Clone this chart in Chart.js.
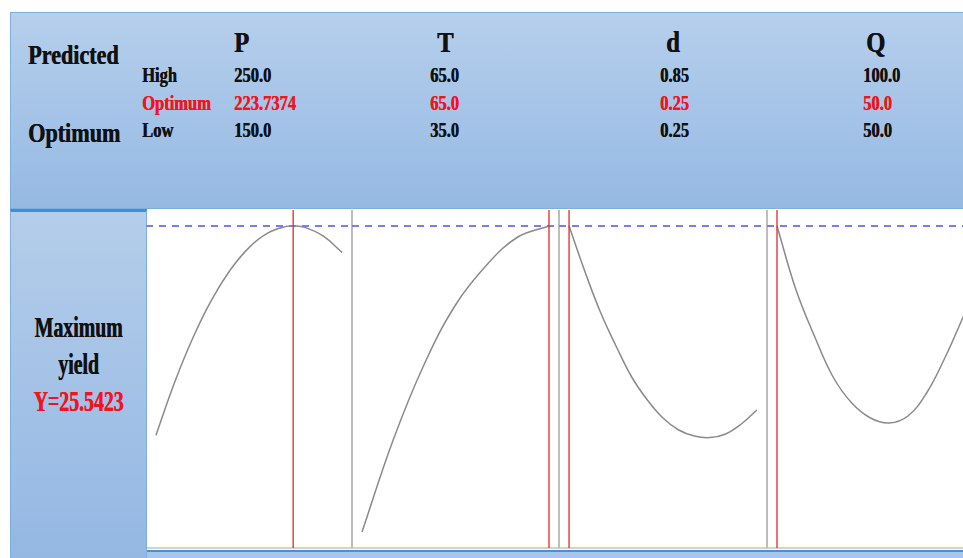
<!DOCTYPE html>
<html>
<head>
<meta charset="utf-8">
<script src="https://cdn.jsdelivr.net/npm/chart.js@4.4.1/dist/chart.umd.min.js"></script>
<style>
  body { margin: 0; width: 963px; height: 558px; overflow: hidden; background: #fff; position: relative; }
  .box { position: absolute; box-sizing: border-box; }
  #top { left: 10px; top: 12px; width: 970px; height: 197px; border: 1px solid #7cb0e2;
         background: linear-gradient(#b6cfec, #95b9e3); }
  #left { left: 10px; top: 209px; width: 137px; height: 360px; border: 1px solid #7cb0e2; border-top: 3px solid #3f8fd8;
          background: linear-gradient(#b4cdea, #93b7e3); }
  #plot { left: 147px; top: 209px; width: 830px; height: 340px; background: #fff; }
  #base1 { left: 147px; top: 547px; width: 830px; height: 2px; background: #d2d2d2; }
  #base2 { left: 147px; top: 550px; width: 830px; height: 2px; background: #3f95dc; }
  #base3 { left: 147px; top: 552px; width: 830px; height: 10px; background: #a9c6ea; }
  .sep { position: absolute; top: 210px; width: 2px; height: 338px; background: #bdbdbd; }
  .t { position: absolute; font-family: "Liberation Serif", "Times New Roman", serif; font-weight: bold;
       line-height: 1; white-space: nowrap; transform-origin: left center; color: #111;
       text-shadow: 0.6px 0 0 currentColor; }
  .tab { font-size: 22px; transform: scaleX(0.75); }
  .hd { font-size: 29px; transform: scaleX(0.85); }
  .big { font-size: 28px; transform: scaleX(0.79); }
  .red { color: #f0141e; }
  #lab { position: absolute; left: 10px; width: 137px; top: 312px; text-align: center;
         font-family: "Liberation Serif", "Times New Roman", serif; font-weight: bold; font-size: 30px; color: #111;
         text-shadow: 0.7px 0 0 currentColor; }
  #lab div { height: 37px; line-height: 30px; transform: scaleX(0.66); white-space: nowrap; }
  canvas { position: absolute; top: 210px; }
</style>
</head>
<body>
<div class="box" id="top"></div>
<div class="box" id="left"></div>
<div class="box" id="plot"></div>
<div class="box" id="base1"></div>
<div class="box" id="base2"></div>
<div class="box" id="base3"></div>

<div class="t big" style="left:28px; top:41px;">Predicted</div>
<div class="t big" style="left:28px; top:119px;">Optimum</div>

<div class="t tab" style="left:142px; top:64px;">High</div>
<div class="t tab red" style="left:142px; top:92px;">Optimum</div>
<div class="t tab" style="left:142px; top:119px;">Low</div>

<div id="hdrs"></div>

<div id="lab">
  <div>Maximum</div>
  <div>yield</div>
  <div style="color:#f0141e">Y=25.5423</div>
</div>

<div class="sep" style="left:351px"></div>
<div class="sep" style="left:558px"></div>
<div class="sep" style="left:766px"></div>

<canvas id="c0" width="206" height="338" style="left:146px"></canvas>
<canvas id="c1" width="207" height="338" style="left:352px"></canvas>
<canvas id="c2" width="208" height="338" style="left:559px"></canvas>
<canvas id="c3" width="207" height="338" style="left:767px"></canvas>

<script>
// factors and settings
var factors = ['P', 'T', 'd', 'Q'];
var highs = ['250.0', '65.0', '0.85', '100.0'];
var optimum = ['223.7374', '65.0', '0.25', '50.0'];
var lows = ['150.0', '35.0', '0.25', '50.0'];
var yOpt = 25.5423;

// response curves
var pX = [150, 160, 170, 180, 190, 200, 210, 220, 223.7374, 230, 240, 250];
var pY = [15.08, 17.72, 19.98, 21.86, 23.35, 24.46, 25.18, 25.52, 25.54, 25.47, 25.03, 24.22];
var tX = [35, 40, 45, 50, 55, 60, 65];
var tY = [10.24, 14.84, 18.64, 21.59, 23.59, 24.99, 25.54];
var dX = [0.25, 0.30, 0.35, 0.40, 0.45, 0.50, 0.55, 0.60, 0.65, 0.70, 0.75, 0.80, 0.85];
var dY = [25.54, 23.29, 21.24, 19.54, 17.99, 16.84, 15.94, 15.34, 15.04, 14.96, 15.14, 15.64, 16.34];
var qX = [50, 55, 60, 65, 70, 75, 80, 85, 90, 95, 100];
var qY = [25.54, 22.39, 20.04, 17.99, 16.69, 15.94, 15.69, 16.04, 17.19, 18.99, 21.09];

var curves = [[pX, pY], [tX, tY], [dX, dY], [qX, qY]];
var ranges = [[150, 250], [35, 65], [0.25, 0.85], [50, 100]];
var optX = [223.7374, 65, 0.25, 50];

var yMin = 9.44, yMax = 26.34;

// header table text
var hdrLeft = [234, 437, 666, 866];
var valLeft = [234, 430, 660, 863];
var html = '';
for (var i = 0; i < factors.length; i++) {
    html += '<div class="t hd" style="left:' + hdrLeft[i] + 'px; top:28px;">' + factors[i] + '</div>';
    html += '<div class="t tab" style="left:' + valLeft[i] + 'px; top:64px;">' + highs[i] + '</div>';
    html += '<div class="t tab red" style="left:' + valLeft[i] + 'px; top:92px;">' + optimum[i] + '</div>';
    html += '<div class="t tab" style="left:' + valLeft[i] + 'px; top:119px;">' + lows[i] + '</div>';
}
document.getElementById('hdrs').innerHTML = html;

for (var k = 0; k < 4; k++) {
    var lo = ranges[k][0], hi = ranges[k][1];
    var pad = (hi - lo) * 0.0535;
    var pts = curves[k][0].map(function (x, j) { return { x: x, y: curves[k][1][j] }; });

    new Chart(document.getElementById('c' + k).getContext('2d'), {
        type: 'line',
        data: {
            datasets: [{
                data: [{ x: optX[k], y: yMin }, { x: optX[k], y: yMax }],
                borderColor: '#e3262c',
                borderWidth: 1.3,
                pointRadius: 0
            }, {
                data: [{ x: lo - pad, y: yOpt }, { x: hi + pad, y: yOpt }],
                borderColor: '#7c7cf2',
                borderWidth: 2,
                borderDash: [7, 6],
                pointRadius: 0
            }, {
                data: pts,
                borderColor: '#8a8a8a',
                borderWidth: 1.5,
                pointRadius: 0,
                tension: 0.4
            }]
        },
        options: {
            responsive: false,
            animation: false,
            devicePixelRatio: 1,
            layout: { padding: 0 },
            plugins: { legend: { display: false }, tooltip: { enabled: false } },
            scales: {
                x: { type: 'linear', min: lo - pad, max: hi + pad, display: false },
                y: { min: yMin, max: yMax, display: false }
            }
        }
    });
}
</script>
</body>
</html>
